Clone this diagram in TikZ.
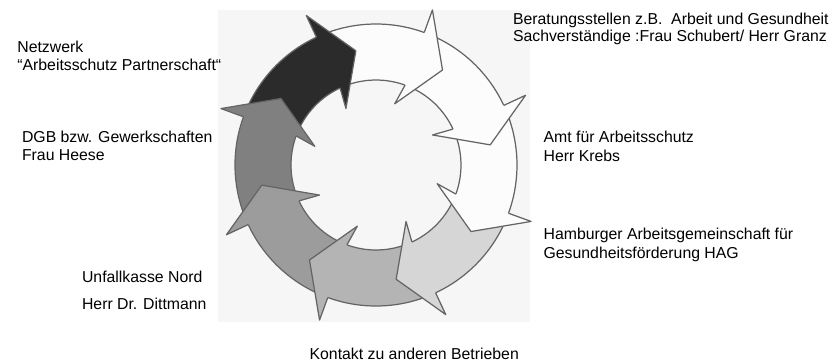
\documentclass[tikz,border=0pt]{standalone}
\usepackage{fontspec}
\setmainfont{Liberation Sans}
\usetikzlibrary{positioning}
\definecolor{paper}{RGB}{246,246,246}
\definecolor{rim}{RGB}{100,100,100}
\definecolor{ringA}{RGB}{128,128,128}
\definecolor{ringB}{RGB}{43,43,43}
\definecolor{ringC}{RGB}{252,252,252}
\definecolor{ringD}{RGB}{214,214,214}
\definecolor{ringE}{RGB}{180,180,180}
\definecolor{ringF}{RGB}{156,156,156}

\begin{document}
\begin{tikzpicture}[scale=0.02,
  lbl/.style={anchor=base west, inner sep=0pt, font=\fontsize{9}{11}\selectfont},
  rimline/.style={draw=rim, line width=0.7pt, line join=round}]
\useasboundingbox (-376,-196) rectangle (459,165);
% scanned paper behind the cycle
\fill[paper] (-158,-157) rectangle (154,155);

% ring bodies: each tail runs under the head before it
\foreach \b/\col in {160/ringA,115/ringB,70/ringC,25/ringC,-20/ringC,-65/ringD,-110/ringE,-155/ringF}{
  \fill[\col] (\b+43:85) arc[start angle=\b+43, end angle=\b-1, radius=85]
    -- (\b-1:141) arc[start angle=\b-1, end angle=\b+43, radius=141] -- cycle;
  \draw[rimline] (\b+43:85) arc[start angle=\b+43, end angle=\b, radius=85];
  \draw[rimline] (\b+43:141) arc[start angle=\b+43, end angle=\b, radius=141];
}
% arrow heads on top
\foreach \b/\col in {160/ringA,115/ringB,70/ringC,25/ringC,-20/ringC,-65/ringD,-110/ringE,-155/ringF}{
  \fill[\col] (\b:141) -- (\b:165) -- (\b-15:116) -- (\b+3:64) -- (\b:85) -- cycle;
  \draw[rimline] (\b:141) -- (\b:165) -- (\b-15:116) -- (\b+3:64) -- (\b:85);
}

% partners round the cycle
\node[lbl] (netz1) at (-359,112.5) {Netzwerk};
\node[lbl] (netz2) at (-359,94.5) {“Arbeitsschutz Partnerschaft“};
\node[lbl] (dgb1) at (-354.3,22.3) {DGB bzw. Gewerkschaften};
\node[lbl] (dgb2) at (-354.3,4.3) {Frau Heese};
\node[lbl] (ber1) at (136.7,141) {Beratungsstellen z.B.\ \ Arbeit und Gesundheit};
\node[lbl] (ber2) at (136.7,123.3) {Sachverständige :Frau Schubert/ Herr Granz};
\node[lbl] (amt1) at (167.3,22.3) {Amt für Arbeitsschutz};
\node[lbl] (amt2) at (167.3,3.3) {Herr Krebs};
\node[lbl] (hag1) at (167.3,-74) {Hamburger Arbeitsgemeinschaft für};
\node[lbl] (hag2) at (167.3,-93.7) {Gesundheitsförderung HAG};
\node[lbl] (ufk1) at (-294.3,-117.3) {Unfallkasse Nord};
\node[lbl] (ufk2) at (-294.3,-144.3) {Herr Dr. Dittmann};
\node[lbl] (kon) at (-66.7,-194.3) {Kontakt zu anderen Betrieben};
\end{tikzpicture}
\end{document}
